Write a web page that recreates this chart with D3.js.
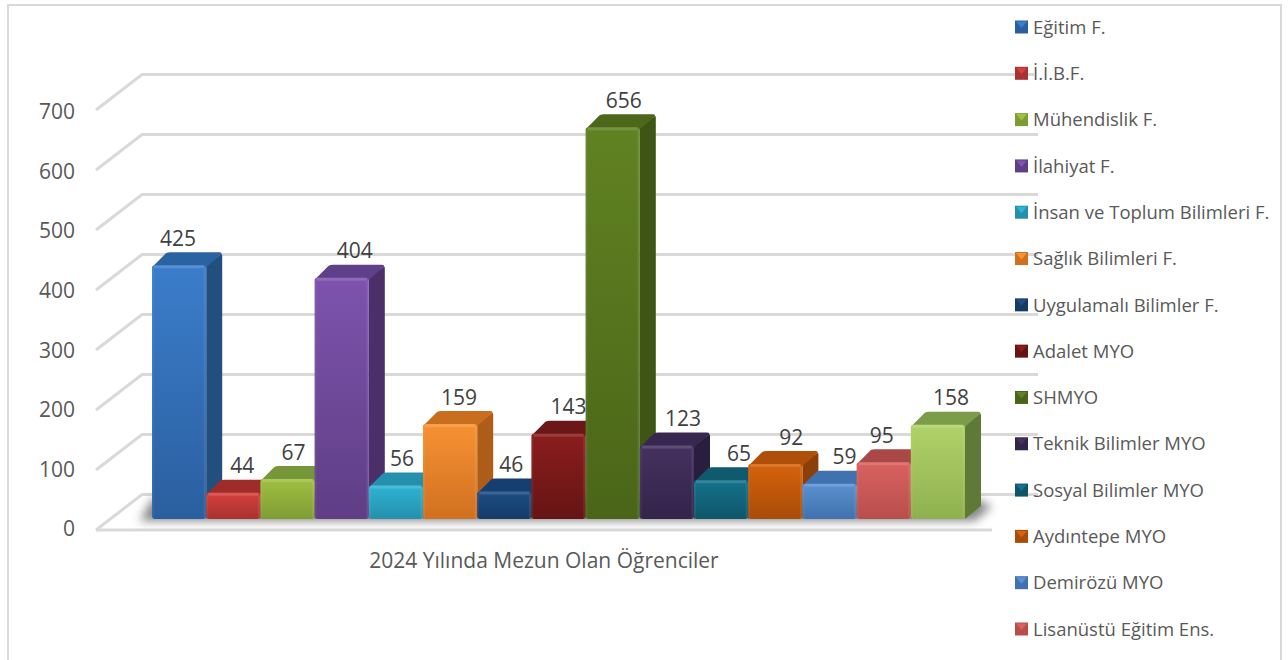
<!DOCTYPE html>
<html><head><meta charset="utf-8">
<script src="https://cdn.jsdelivr.net/npm/d3@7/dist/d3.min.js"></script>
<style>html,body{margin:0;padding:0;background:#fff;overflow:hidden}svg{display:block}text{font-family:"Open Sans",sans-serif}</style>
</head><body><svg id="c" width="1288" height="660"></svg>
<script>
const legendNames = ["Eğitim F.","İ.İ.B.F.","Mühendislik F.","İlahiyat F.","İnsan ve Toplum Bilimleri F.","Sağlık Bilimleri F.","Uygulamalı Bilimler F.","Adalet MYO","SHMYO","Teknik Bilimler MYO","Sosyal Bilimler MYO","Aydıntepe MYO","Demirözü MYO","Lisanüstü Eğitim Ens."];
const values = [425,44,67,404,56,159,46,143,656,123,65,92,59,95,158];
const yTicks = [0,100,200,300,400,500,600,700];
const axisTitle = "2024 Yılında Mezun Olan Öğrenciler";
// style: [front top, front bottom, side, top]
const barColors = [
 ["#3b7dcb","#2a5f9f","#234f7f","#2a62a2"],
 ["#d63f3b","#a83230","#8e2826","#a02c2a"],
 ["#9fc042","#7f9c34","#68812c","#76963a"],
 ["#7d53ad","#5f3e85","#4a2f68","#5f3f8a"],
 ["#2fb3d3","#2490ad","#1d7a92","#2490ad"],
 ["#f79233","#d07020","#ad5c1a","#c96e1e"],
 ["#1c4d85","#153a66","#102e52","#153f70"],
 ["#8c1d1d","#651414","#541010","#6c1717"],
 ["#618222","#4a6518","#3f5516","#4c671a"],
 ["#45315f","#33244a","#2a1e3e","#382850"],
 ["#14728c","#0f5568","#0c4656","#105a6e"],
 ["#d6620c","#a84c08","#8c4007","#b04f09"],
 ["#5b90d1","#3f72ae","#35608f","#3f72ae"],
 ["#d9625f","#b84e4c","#96403f","#a94846"],
 ["#b1d268","#8fb04f","#5f7a38","#7d9c4a"]
];
const labelDx = [-1,9,6,13,6,9,7,10,11,16,18,16,15,-2,13];
const depthX = 16, depthY = 13;

const svg = d3.select("#c");
const defs = svg.append("defs");
defs.append("filter").attr("id","blur").attr("x","-10%").attr("y","-100%").attr("width","120%").attr("height","300%")
  .append("feGaussianBlur").attr("stdDeviation",5);

// frame
svg.append("rect").attr("x",8).attr("y",5).attr("width",1273).attr("height",700)
  .attr("fill","#fff").attr("stroke","#d9d9d9").attr("stroke-width",2);

const y = d3.scaleLinear().domain([0,700]).range([530,110]);
const tickY = d3.scaleLinear().domain([0,700]).range([527,110]);
const barY = d3.scaleLinear().domain([0,700]).range([519,519-700*0.597]);
const x = d3.scaleBand().domain(d3.range(values.length)).range([152,965]).paddingInner(0);

// walls
const grid = svg.append("g");
yTicks.forEach(t=>{
  const yf = y(t), yb = yf-35.5;
  if(t===0){
    grid.append("path").attr("d",`M96,${yf}L142,${yb}L1038,${yb}`).attr("fill","none").attr("stroke","#d9d9d9").attr("stroke-width",3);
    grid.append("path").attr("d",`M96,${yf}L992,${yf}`).attr("fill","none").attr("stroke","#d9d9d9").attr("stroke-width",3);
  } else {
    grid.append("path").attr("d",`M96,${yf}L142,${yb}L${t===700?1034:1038},${yb}`).attr("fill","none").attr("stroke","#d9d9d9").attr("stroke-width",3);
  }
});

// shadow
svg.append("path").attr("d","M140,521L975,521L992,506L975,499L152,499Z").attr("fill","#555").attr("opacity",0.7).attr("filter","url(#blur)");

// axis
const ax = svg.append("g").attr("transform","translate(75,2)")
  .call(d3.axisLeft(tickY).tickValues(yTicks).tickSize(0).tickPadding(0));
ax.select(".domain").remove();
ax.selectAll("text").attr("font-size",21).attr("fill","#595959").style("font-family",'"Open Sans",sans-serif');

// gradients
barColors.forEach((c,i)=>{
  const g = defs.append("linearGradient").attr("id","g"+i).attr("x1",0).attr("y1",0).attr("x2",0).attr("y2",1);
  g.append("stop").attr("offset",0).attr("stop-color",c[0]);
  g.append("stop").attr("offset",1).attr("stop-color",c[1]);
});

// bars
const bars = svg.append("g");
values.forEach((v,i)=>{
  const x0 = x(i), w = x.bandwidth(), x1 = x0+w, b = barY(0), t = barY(v), c = barColors[i];
  const g = bars.append("g");
  g.append("path").attr("d",`M${x1},${t}L${x1+depthX-1},${t-depthY+2}Q${x1+depthX},${t-depthY+1} ${x1+depthX},${t-depthY+4}L${x1+depthX},${b-depthY}L${x1},${b}Z`).attr("fill",c[2]);
  g.append("path").attr("d",`M${x0},${t+2}L${x0+depthX-2},${t-depthY+1}Q${x0+depthX},${t-depthY} ${x0+depthX+2},${t-depthY}L${x1+depthX-3},${t-depthY}Q${x1+depthX},${t-depthY} ${x1+depthX-1},${t-depthY+2}L${x1},${t+2}Z`).attr("fill",c[3]);
  g.append("rect").attr("x",x0).attr("y",t).attr("width",w).attr("height",b-t).attr("rx",3).attr("fill",`url(#g${i})`);
  g.append("path").attr("d",`M${x0+2},${t+1.5}L${x1-2},${t+1.5}`).attr("stroke","#fff").attr("stroke-opacity",0.14).attr("stroke-width",3).attr("fill","none");
  g.append("path").attr("d",`M${x1-1.5},${t+3}L${x1-1.5},${b-1}`).attr("stroke","#fff").attr("stroke-opacity",0.08).attr("stroke-width",2).attr("fill","none");
  g.append("path").attr("d",`M${x0+1},${t+3}L${x0+1},${b-1}`).attr("stroke","#fff").attr("stroke-opacity",0.05).attr("stroke-width",2).attr("fill","none");
});

// value labels
svg.append("g").selectAll("text").data(values).join("text")
  .attr("x",(v,i)=>x(i)+x.bandwidth()/2+labelDx[i])
  .attr("y",v=>barY(v)-depthY-14)
  .attr("dy","0.36em").attr("text-anchor","middle").attr("font-size",21).attr("fill","#404040")
  .text(v=>v);

// category title
svg.append("text").attr("x",544).attr("y",568).attr("text-anchor","middle").attr("font-size",21).attr("fill","#595959").text(axisTitle);

// legend
const rowY = d3.scaleLinear().domain([0,13]).range([27,629]);
const lg = svg.append("g").selectAll("g").data(legendNames).join("g").attr("transform",(d,i)=>`translate(1015,${rowY(i)})`);
lg.append("rect").attr("x",0).attr("y",-6.5).attr("width",13).attr("height",13).attr("fill",(d,i)=>barColors[i][1]);
lg.append("path").attr("d","M1,-5.5L12,-5.5L6.5,1Z").attr("fill",(d,i)=>barColors[i][0]);
lg.append("text").attr("x",18).attr("dy","0.36em").attr("font-size",18.5).attr("fill","#595959").text(d=>d);
</script></body></html>
